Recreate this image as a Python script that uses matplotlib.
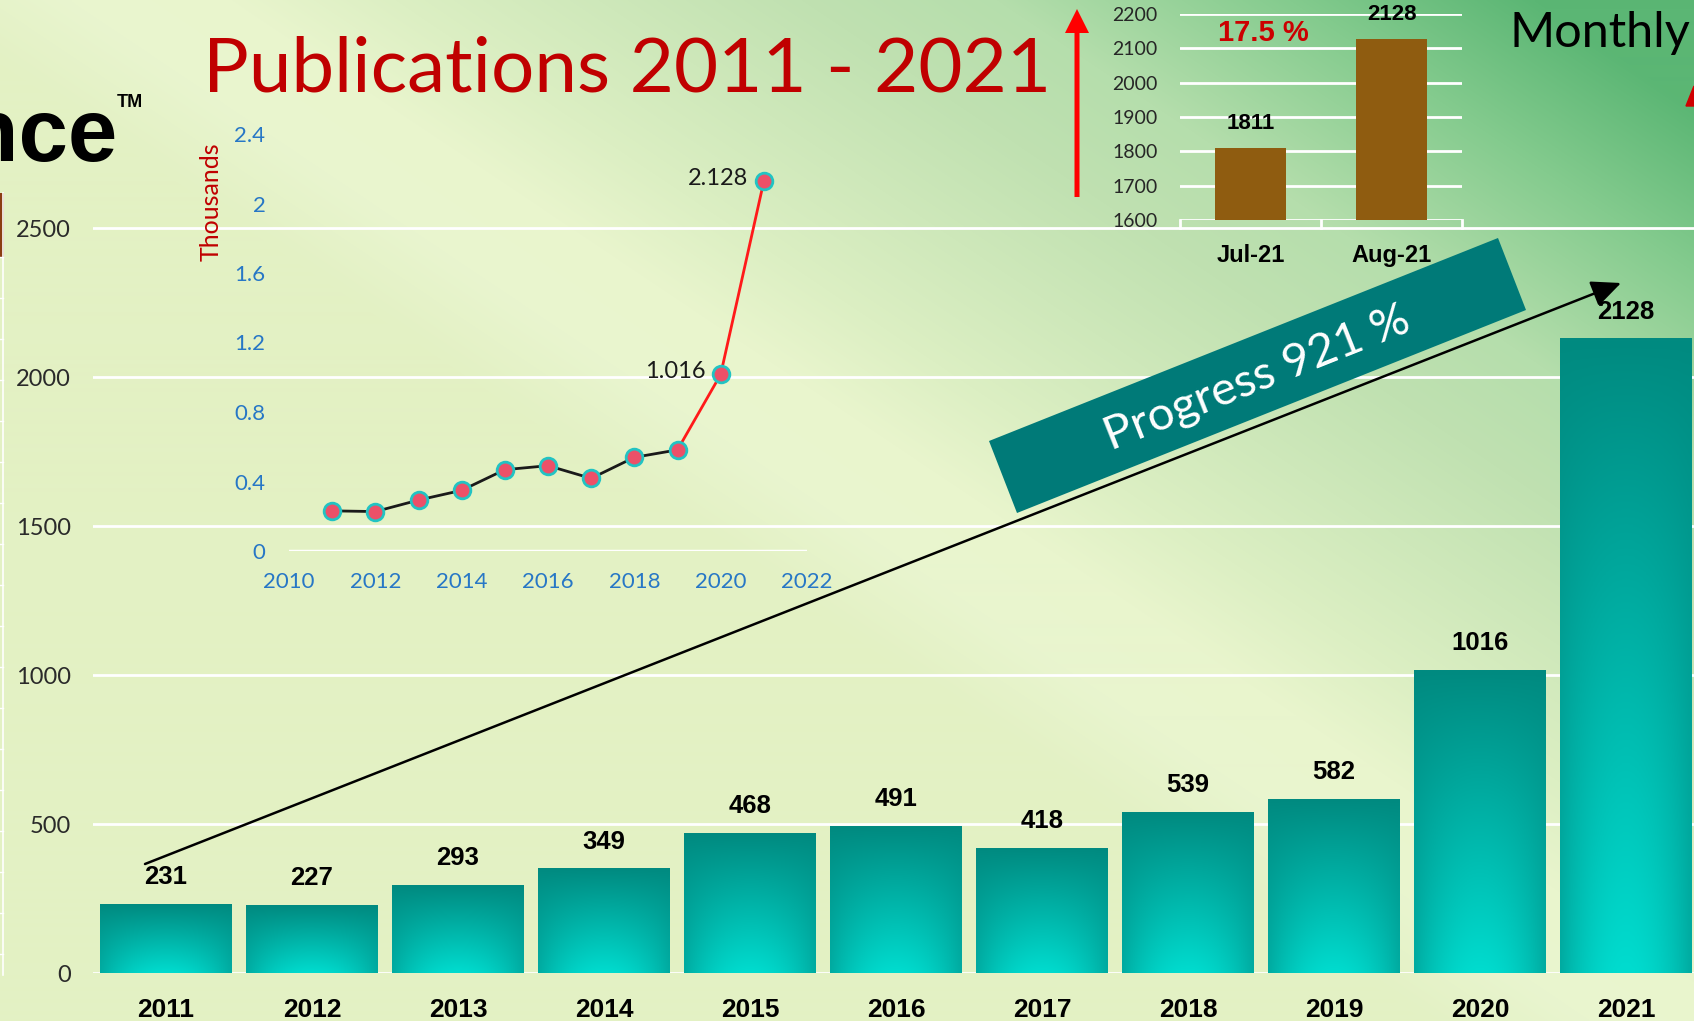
import numpy as np
import matplotlib
matplotlib.use("Agg")
import matplotlib.pyplot as plt
from matplotlib.patches import Polygon, Rectangle, FancyArrow
from matplotlib.colors import to_rgb
import matplotlib.transforms as mtransforms

# ---- data ----
years = [2011, 2012, 2013, 2014, 2015, 2016, 2017, 2018, 2019, 2020, 2021]
pubs = [231, 227, 293, 349, 468, 491, 418, 539, 582, 1016, 2128]
pubs_k = [v / 1000 for v in pubs]

months = ["Jul-21", "Aug-21"]
month_vals = [1811, 2128]

W, H = 1694, 1021
LIGHT = "Lato"
BOLD = ["Liberation Sans", "DejaVu Sans"]

fig = plt.figure(figsize=(W / 100, H / 100), dpi=100)

# ---- background gradient ----
bg = fig.add_axes([0, 0, 1, 1], zorder=0)
yy, xx = np.mgrid[0:H, 0:W]
s = (xx - 800) / 894 * 0.55 + (600 - yy) / 600 * 0.55
s = np.clip(s, 0, 1)
stops = [0.0, 0.1, 0.2, 0.3, 0.55, 0.67, 0.85, 1.0]
cols = ["#e3f1c4", "#e9f5cf", "#e9f5cd", "#dcefc3", "#c0e1b1", "#b5deac", "#84cb8e", "#5bb674"]
cols = np.array([to_rgb(c) for c in cols])
img = np.dstack([np.interp(s, stops, cols[:, k]) for k in range(3)])
bg.imshow(img, extent=(0, W, H, 0), aspect="auto")
bg.set_xlim(0, W)
bg.set_ylim(H, 0)
bg.axis("off")

# ---- main bar chart ----
ppu = 0.298
ax = fig.add_axes([93 / W, (H - 973) / H, 1606 / W, 2700 * ppu / H], zorder=1)
ax.patch.set_alpha(0)
x = np.arange(len(years))
bars = ax.bar(x, pubs, width=0.9, color="#00a89c", zorder=2)

# teal gradient fill inside every bar
gh, gw = 120, 60
t = np.linspace(0, 1, gh)[:, None]
u = np.linspace(-1, 1, gw)[None, :]
top = np.array(to_rgb("#018a80"))
bot = np.array(to_rgb("#00dccf"))
grad = top * (1 - t[..., None]) + bot * t[..., None]
shade = 1 - 0.22 * (np.abs(u) ** 2)[..., None] * t[..., None]
grad = np.broadcast_to(grad, (gh, gw, 3)) * shade
for b in bars:
    x0 = b.get_x()
    ax.imshow(grad, extent=(x0, x0 + b.get_width(), 0, b.get_height()),
              aspect="auto", zorder=3)

ax.set_xlim(-0.5, 10.5)
ax.set_ylim(0, 2700)
ax.set_yticks(range(0, 2501, 500))
ax.yaxis.grid(True, color="white", lw=2)
ax.set_axisbelow(True)
for sp in ax.spines.values():
    sp.set_visible(False)
ax.tick_params(axis="both", length=0)
ax.tick_params(axis="y", pad=16, labelsize=17, labelcolor="#2a2a2a")
for lb in ax.get_yticklabels():
    lb.set_fontfamily(LIGHT)
ax.set_xticks(x)
ax.set_xticklabels([str(y) for y in years], fontsize=19, fontweight="bold",
                   family=BOLD)
ax.tick_params(axis="x", pad=18)
ax.bar_label(bars, labels=[str(v) for v in pubs], padding=11, fontsize=18.5,
             fontweight="bold", family=BOLD, zorder=4)

# ---- small line chart (thousands) ----
axl = fig.add_axes([289 / W, (H - 551) / H, 518 / W, 417 / H], zorder=2)
axl.patch.set_alpha(0)
axl.set_xlim(2010, 2022)
axl.set_ylim(0, 2.4)
axl.axhline(0, color="white", lw=2.5, zorder=1)
axl.plot(years[:9], pubs_k[:9], color="#1a1a1a", lw=2, zorder=2)
axl.plot(years[8:], pubs_k[8:], color="#ff1a1a", lw=2, zorder=2)
axl.plot(years, pubs_k, "o", ms=12, mfc="#ec5068", mec="#22c3c3", mew=2, zorder=3)
for i in (9, 10):
    axl.annotate(f"{pubs_k[i]:.3f}", (years[i], pubs_k[i]), xytext=(-11, 2),
                 textcoords="offset points", ha="right", va="center",
                 fontsize=17, family=LIGHT, color="#1a1a1a")
axl.set_xticks(range(2010, 2023, 2))
axl.set_yticks([0, 0.4, 0.8, 1.2, 1.6, 2.0, 2.4])
axl.set_yticklabels(["0", "0.4", "0.8", "1.2", "1.6", "2", "2.4"])
for sp in axl.spines.values():
    sp.set_visible(False)
axl.tick_params(axis="both", length=0, labelsize=16, labelcolor="#2777c6")
axl.tick_params(axis="y", pad=17)
axl.tick_params(axis="x", pad=15)
for lb in axl.get_xticklabels() + axl.get_yticklabels():
    lb.set_fontfamily(LIGHT)

# ---- monthly bar chart ----
axm = fig.add_axes([1180 / W, (H - 220) / H, 282 / W, 206 / H], zorder=2)
axm.patch.set_alpha(0)
mb = axm.bar([0, 1], month_vals, width=0.5, color="#8f5c10", zorder=2)
axm.set_xlim(-0.5, 1.5)
axm.set_ylim(1600, 2200)
axm.set_yticks(range(1600, 2201, 100))
axm.yaxis.grid(True, color="white", lw=2)
axm.set_axisbelow(True)
for sp in axm.spines.values():
    sp.set_visible(False)
axm.tick_params(axis="both", length=0)
axm.tick_params(axis="y", pad=16, labelsize=14, labelcolor="#262626")
for lb in axm.get_yticklabels():
    lb.set_fontfamily(LIGHT)
axm.set_xticks([0, 1])
axm.set_xticklabels(months, fontsize=17, fontweight="bold", family=BOLD)
axm.tick_params(axis="x", pad=17)
blend = mtransforms.blended_transform_factory(axm.transData, axm.transAxes)
for xv in (-0.5, 0.5, 1.5):
    axm.plot([xv, xv], [0, -0.04], transform=blend, color="white", lw=2,
             clip_on=False)
axm.bar_label(mb, labels=[str(v) for v in month_vals], padding=10, fontsize=16,
              fontweight="bold", family=BOLD)

# ---- overlay: titles, arrows, banner ----
ov = fig.add_axes([0, 0, 1, 1], zorder=5)
ov.set_xlim(0, W)
ov.set_ylim(H, 0)
ov.axis("off")
ov.patch.set_alpha(0)

ov.text(203, 91, "Publications 2011 - 2021", fontsize=55, color="#c00000",
        family=LIGHT, va="baseline")
ov.text(117, 161, "Web of Science", fontsize=64, fontweight="bold", family=BOLD,
        ha="right", va="baseline", color="black")
ov.text(117, 107, "TM", fontsize=13, fontweight="bold", family=BOLD,
        va="baseline", color="black")
ov.text(1510, 47, "Monthly", fontsize=35, family=LIGHT, va="baseline",
        color="black")
ov.text(211, 202, "Thousands", rotation=90, ha="center", va="center",
        fontsize=18, family=LIGHT, color="#c00000")
ov.text(1263, 33, "17.5 %", ha="center", va="center", fontsize=21,
        fontweight="bold", family=BOLD, color="#cc0000")

ov.add_patch(FancyArrow(1077, 197, 0, -188, width=5, head_width=24,
                        head_length=24, length_includes_head=True,
                        color="#ff0000", lw=0))
ov.add_patch(Polygon([(1686, 106), (1694, 86), (1694, 106)], color="#d00000"))

ov.add_patch(Polygon([(989, 441), (1498, 238), (1526, 310), (1017, 513)],
                     closed=True, color="#007a78", lw=0))
ov.text(1257, 378, "Progress 921 %", rotation=21.7, rotation_mode="anchor",
        ha="center", va="center", fontsize=34, family=LIGHT, color="white")

ov.annotate("", xy=(1621, 283), xytext=(145, 864),
            arrowprops=dict(arrowstyle="-|>,head_length=1.0,head_width=0.45",
                            color="black", lw=1.8, mutation_scale=18,
                            shrinkA=0, shrinkB=0))

# left edge remnants of the slide
ov.plot([3, 3], [193, 975], color="white", lw=1.2)
for yv in range(257, 976, 41):
    ov.plot([0, 3], [yv, yv], color="white", lw=1)
ov.add_patch(Rectangle((0, 193), 4, 64, color="#8b3e12", lw=0))

fig.savefig("out.png", dpi=100)
